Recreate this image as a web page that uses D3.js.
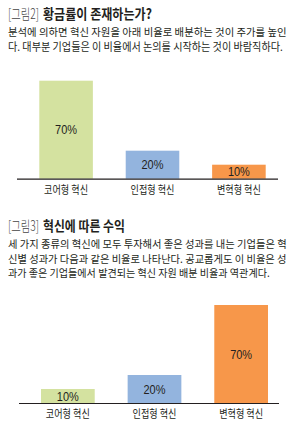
<!DOCTYPE html>
<html>
<head>
<meta charset="utf-8">
<script src="https://cdn.jsdelivr.net/npm/d3@7"></script>
<style>
  html, body { margin: 0; padding: 0; background: #fff; }
  svg { display: block; font-family: "Noto Sans CJK KR", "Noto Sans", sans-serif; }
</style>
</head>
<body>
<svg id="viz" width="290" height="428"></svg>
<script>
(function () {
  "use strict";

  // categories + values
  const categories = ["코어형 혁신", "인접형 혁신", "변혁형 혁신"];
  const allocation = [70, 20, 10];   // 그림2
  const returns = [10, 20, 70];      // 그림3
  const barColors = ["#d4e2a0", "#93b4de", "#f7974a"];

  const fig2Tag = "[그림2]";
  const fig2Title = "황금률이 존재하는가?";
  const fig2Text = [
    "분석에 의하면 혁신 자원을 아래 비율로 배분하는 것이 주가를 높인",
    "다. 대부분 기업들은 이 비율에서 논의를 시작하는 것이 바람직하다."
  ];
  const fig3Tag = "[그림3]";
  const fig3Title = "혁신에 따른 수익";
  const fig3Text = [
    "세 가지 종류의 혁신에 모두 투자해서 좋은 성과를 내는 기업들은 혁",
    "신별 성과가 다음과 같은 비율로 나타난다. 공교롭게도 이 비율은 성",
    "과가 좋은 기업들에서 발견되는 혁신 자원 배분 비율과 역관계다."
  ];

  const svg = d3.select("#viz");
  const ink = "#231f20";

  // squeeze a text horizontally so it spans `w` px (the print face is condensed)
  // anchor: 0 = start at x, 0.5 = centred on x
  function fitWidth(sel, x, y, w, anchor) {
    sel.each(function () {
      const node = d3.select(this);
      node.attr("x", 0).attr("y", 0).attr("text-anchor", "start");
      const len = this.getComputedTextLength();
      const s = Math.min(1, w / len);
      node.attr("transform", `translate(${x - anchor * len * s},${y}) scale(${s},1)`);
    });
  }

  /*
  |--------------------------------------------------------------------------
  | Heading + paragraph block
  |--------------------------------------------------------------------------
  */
  function heading(tag, title, y, titleEnd) {
    svg.append("text")
      .attr("font-size", 14)
      .attr("fill", "#444")
      .attr("font-weight", 300)
      .text(tag)
      .call(fitWidth, 8, y, 31, 0);
    svg.append("text")
      .attr("font-size", 14)
      .attr("fill", ink)
      .attr("font-weight", 700)
      .text(title)
      .call(fitWidth, 43, y, titleEnd - 43, 0);
  }

  function paragraph(lines, y0, step, widths, size) {
    svg.append("g").selectAll("text")
      .data(lines)
      .enter()
      .append("text")
      .attr("font-size", size)
      .attr("fill", ink)
      .text(d => d)
      .each(function (d, i) {
        d3.select(this).call(fitWidth, 8, y0 + i * step, widths[i], 0);
      });
  }

  /*
  |--------------------------------------------------------------------------
  | Bar chart
  |--------------------------------------------------------------------------
  */
  function barChart(values, opts) {
    const x = d3.scaleBand()
      .domain(categories)
      .range(opts.bandRange)
      .paddingInner(0.38)
      .paddingOuter(0);

    const y = d3.scaleLinear()
      .domain([0, 70])
      .range([opts.base, opts.base - 98]);

    const g = svg.append("g");
    const rows = categories.map((c, i) => ({ cat: c, v: values[i], color: barColors[i] }));

    g.selectAll("rect")
      .data(rows)
      .enter()
      .append("rect")
      .attr("x", d => x(d.cat))
      .attr("y", d => y(d.v))
      .attr("width", x.bandwidth())
      .attr("height", d => y(0) - y(d.v))
      .attr("fill", d => d.color);

    g.selectAll(".val")
      .data(rows)
      .enter()
      .append("text")
      .attr("class", "val")
      .attr("font-family", "'Liberation Sans', Arial, sans-serif")
      .attr("font-size", 13)
      .attr("fill", ink)
      .text(d => d.v + "%")
      .each(function (d) {
        d3.select(this).call(fitWidth,
          x(d.cat) + x.bandwidth() / 2,
          (y(d.v) + y(0)) / 2 + 4.6, 22, 0.5);
      });

    // baseline
    g.append("line")
      .attr("x1", opts.axis[0])
      .attr("x2", opts.axis[1])
      .attr("y1", y(0) + 0.5)
      .attr("y2", y(0) + 0.5)
      .attr("stroke", ink)
      .attr("stroke-width", 1.2);

    // category labels (no ticks)
    const axis = d3.axisBottom(x).tickSize(0).tickPadding(0);
    const ax = g.append("g")
      .attr("transform", `translate(0,${y(0)})`)
      .call(axis);
    ax.select(".domain").remove();
    ax.selectAll(".tick").each(function (d) {
      const tx = x.bandwidth() / 2;
      d3.select(this).select("text")
        .attr("dy", null)
        .attr("font-family", "'Noto Sans CJK KR', sans-serif")
        .attr("font-size", 11)
        .attr("fill", ink)
        .call(fitWidth, 0, opts.labelDy, 44, 0.5);
    });
  }

  heading(fig2Tag, fig2Title, 18.5, 152);
  paragraph(fig2Text, 35.5, 15, [279, 275], 10.8);
  barChart(allocation, { bandRange: [39.3, 265.7], base: 178.7, axis: [17, 278], labelDy: 15 });

  heading(fig3Tag, fig3Title, 230.5, 125);
  paragraph(fig3Text, 248.3, 14.2, [279, 279, 262], 10.5);
  barChart(returns, { bandRange: [41, 268], base: 403, axis: [19, 279], labelDy: 15 });
})();
</script>
</body>
</html>
